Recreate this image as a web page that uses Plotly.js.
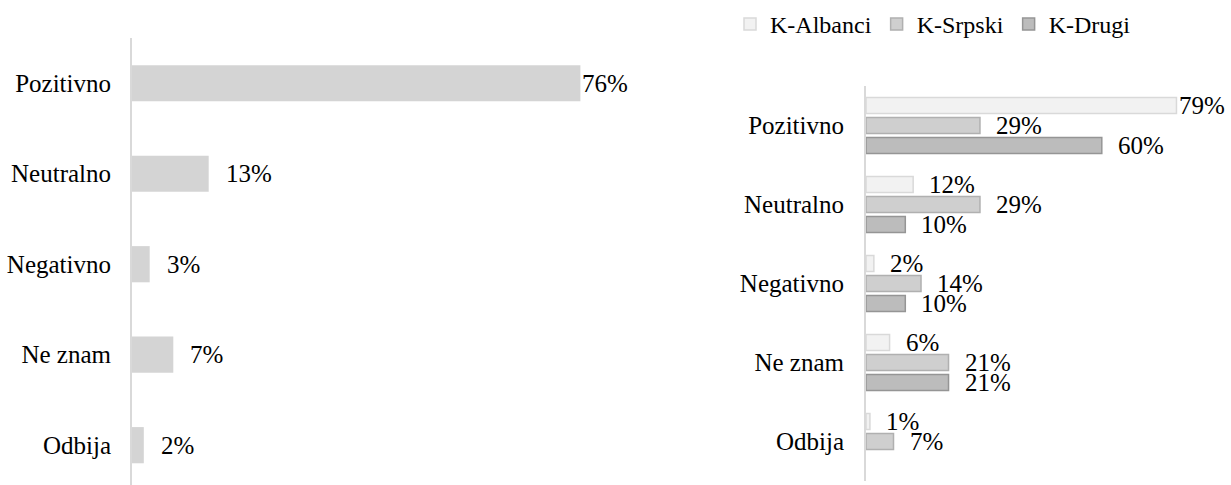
<!DOCTYPE html>
<html>
<head>
<meta charset="utf-8">
<script src="https://cdn.plot.ly/plotly-3.0.1.min.js"></script>
<style>html,body{margin:0;padding:0;background:#fff;}#chart{width:1231px;height:485px;}</style>
</head>
<body>
<div id="chart"></div>
<script>
// ---- data ----
const categories = ["Pozitivno", "Neutralno", "Negativno", "Ne znam", "Odbija"];
const totalValues = [0.76, 0.13, 0.03, 0.07, 0.02];
const seriesNames = ["K-Albanci", "K-Srpski", "K-Drugi"];
const albanciValues = [0.79, 0.12, 0.02, 0.06, 0.01];
const srpskiValues = [0.29, 0.29, 0.14, 0.21, 0.07];
const drugiValues = [0.60, 0.10, 0.10, 0.21, null];

// ---- style ----
const FONT = "'Liberation Serif', 'Times New Roman', 'DejaVu Serif', serif";
const fills = ["#f2f2f2", "#cfcfcf", "#bcbcbc"];
const borders = ["#d9d9d9", "#b0b0b0", "#959595"];
const seriesValues = [albanciValues, srpskiValues, drugiValues];

const traces = [{
  type: "bar", orientation: "h",
  x: totalValues, y: categories,
  xaxis: "x", yaxis: "y",
  width: 0.4,
  marker: {color: "#d4d4d4", line: {width: 0}},
  showlegend: false, hoverinfo: "skip"
}];
seriesValues.forEach((vals, i) => {
  traces.push({
    type: "bar", orientation: "h",
    name: seriesNames[i],
    x: vals, y: categories,
    xaxis: "x2", yaxis: "y2",
    marker: {color: fills[i], line: {color: borders[i], width: 1.5}},
    hoverinfo: "skip"
  });
});

const fmt = v => Math.round(v * 100) + "%";
const annotations = [];
totalValues.forEach((v, j) => {
  annotations.push({
    x: v, y: categories[j], xref: "x", yref: "y",
    text: fmt(v), showarrow: false, xanchor: "left", yanchor: "middle",
    xshift: v >= 0.7 ? 0 : 15,
    font: {family: FONT, size: 25, color: "#000"}
  });
});
seriesValues.forEach((vals, i) => {
  vals.forEach((v, j) => {
    if (v === null) return;
    annotations.push({
      x: v, y: categories[j], xref: "x2", yref: "y2",
      text: fmt(v), showarrow: false, xanchor: "left", yanchor: "middle",
      xshift: v >= 0.75 ? 1 : 14,
      yshift: (1 - i) * 20,
      font: {family: FONT, size: 25, color: "#000"}
    });
  });
});

const W = 1231, H = 485;
const layout = {
  width: W, height: H,
  margin: {l: 0, r: 0, t: 0, b: 0},
  paper_bgcolor: "#fff", plot_bgcolor: "#fff",
  font: {family: FONT, size: 25, color: "#000"},
  barmode: "group",
  bargap: 0.24, bargroupgap: 0.2,
  showlegend: true,
  legend: {
    orientation: "h", x: 730 / W, xanchor: "left", y: 1 - 2 / H, yanchor: "top",
    font: {family: FONT, size: 24, color: "#000"},
    traceorder: "normal", bgcolor: "rgba(0,0,0,0)"
  },
  xaxis: {
    domain: [132 / W, (132 + 472) / W], range: [0, 0.8],
    showgrid: false, zeroline: false, showticklabels: false, showline: false, ticks: ""
  },
  yaxis: {
    domain: [0, 1 - 38 / H], range: [4.44, -0.5], type: "category",
    showgrid: false, zeroline: false, showline: true, linecolor: "#d9d9d9", linewidth: 2,
    ticks: "", ticklabelstandoff: 14,
    tickfont: {family: FONT, size: 25, color: "#000"}
  },
  xaxis2: {
    domain: [866 / W, (866 + 353.7) / W], range: [0, 0.9], anchor: "y2",
    showgrid: false, zeroline: false, showticklabels: false, showline: false, ticks: ""
  },
  yaxis2: {
    domain: [1 - 481 / H, 1 - 86 / H], range: [4.5, -0.5], type: "category", anchor: "x2",
    showgrid: false, zeroline: false, showline: true, linecolor: "#d9d9d9", linewidth: 2,
    ticks: "", ticklabelstandoff: 15,
    tickfont: {family: FONT, size: 25, color: "#000"}
  },
  annotations: annotations
};

Plotly.newPlot("chart", traces, layout, {displayModeBar: false, staticPlot: true});
</script>
</body>
</html>
